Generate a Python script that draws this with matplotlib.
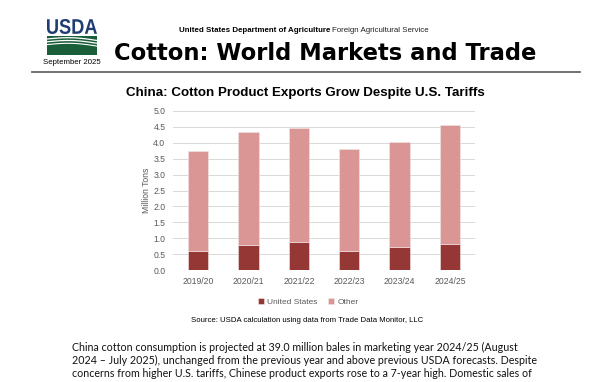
import numpy as np
import matplotlib
matplotlib.use('Agg')
from matplotlib import pyplot as plt
from matplotlib.patches import Rectangle, PathPatch
from matplotlib.textpath import TextPath
from matplotlib.font_manager import FontProperties
from matplotlib.transforms import Affine2D

# data (million tons)
years = ['2019/20', '2020/21', '2021/22', '2022/23', '2023/24', '2024/25']
us = [0.61, 0.80, 0.89, 0.61, 0.73, 0.82]
total = [3.73, 4.34, 4.45, 3.80, 4.01, 4.55]
other = [t - u for t, u in zip(total, us)]
yticks = [0.0, 0.5, 1.0, 1.5, 2.0, 2.5, 3.0, 3.5, 4.0, 4.5, 5.0]

para = ['China cotton consumption is projected at 39.0 million bales in marketing year 2024/25 (August',
        '2024 \u2013 July 2025), unchanged from the previous year and above previous USDA forecasts. Despite',
        'concerns from higher U.S. tariffs, Chinese product exports rose to a 7-year high. Domestic sales of']

W, H = 612, 382
def px(x, y):
    return x / W, 1 - y / H

fig = plt.figure(figsize=(W / 100, H / 100), dpi=100)
fig.patch.set_facecolor('white')

# header
fig.text(*px(179, 31), 'United States Department of Agriculture', fontsize=5.7,
         fontweight='bold', family='Liberation Sans', va='center')
fig.text(*px(332, 31), 'Foreign Agricultural Service', fontsize=5.7,
         family='Liberation Sans', va='center', color='#222222')
fig.text(*px(114, 60), 'Cotton: World Markets and Trade', fontsize=16.3,
         fontweight='bold', family='DejaVu Sans', va='baseline')
fig.add_artist(plt.Line2D([32 / W, 580 / W], [1 - 72 / H] * 2, color='#666666', lw=1.3))

# USDA logo: squeeze the letters into the box the logo uses (pixels 47-97, 19-34)
tp = TextPath((0, 0), 'USDA', size=10,
              prop=FontProperties(family='Liberation Sans', weight='bold'))
bb = tp.get_extents()
sx = (50 / W) / bb.width
sy = (15 / H) / bb.height
tr = Affine2D().translate(-bb.x0, -bb.y0).scale(sx, sy).translate(47 / W, 1 - 34 / H)
fig.add_artist(PathPatch(tr.transform_path(tp), color='#1f3d73', lw=0,
                         transform=fig.transFigure))
fig.add_artist(Rectangle(px(47, 55), 50 / W, 19 / H, color='#1b5e3a', lw=0))
t = np.linspace(47, 97, 50)
for off, lw in [(0, 0.9), (2.8, 0.9), (5.6, 0.8)]:
    yy = 39 + off - 2.0 * np.sin((t - 47) / 50 * np.pi) + 1.5 * (t - 47) / 50
    fig.add_artist(plt.Line2D(t / W, 1 - yy / H, color='white', lw=lw))
fig.text(*px(71.5, 62), 'September 2025', fontsize=5.6, family='Liberation Sans',
         ha='center', va='center')

# chart
ax = fig.add_axes([173 / W, 1 - 270 / H, 302 / W, 159 / H])
x = np.arange(len(years))
ax.bar(x, us, width=0.4, color='#953735', edgecolor='#f2e6e6', lw=0.4,
       label='United States', zorder=3)
ax.bar(x, other, bottom=us, width=0.4, color='#d99694', edgecolor='#f2e6e6',
       lw=0.4, label='Other', zorder=3)
ax.set_xlim(-0.5, 5.5)
ax.set_ylim(0, 5)
ax.set_yticks(yticks)
ax.set_yticklabels([f'{v:.1f}' for v in yticks])
ax.set_xticks(x)
ax.set_xticklabels(years)
ax.grid(axis='y', color='#d9d9d9', lw=0.7, zorder=0)
for s in ax.spines.values():
    s.set_visible(False)
ax.tick_params(length=0, labelsize=6.2, colors='#595959', pad=5)
ax.tick_params(axis='y', pad=5.5)
for lab in ax.get_xticklabels() + ax.get_yticklabels():
    lab.set_family('Liberation Sans')
ax.set_ylabel('Million Tons', fontsize=6.2, color='#595959', family='Liberation Sans',
              labelpad=1.5)

fig.text(*px(305, 93), 'China: Cotton Product Exports Grow Despite U.S. Tariffs',
         fontsize=9.6, fontweight='bold', family='Liberation Sans', ha='center', va='center')

leg = fig.legend(loc='center', bbox_to_anchor=px(308, 302), ncol=2, frameon=False,
                 prop={'family': 'Liberation Sans', 'size': 6.0}, handlelength=0.8,
                 handleheight=0.8, handletextpad=0.35, columnspacing=1.2)
for txt in leg.get_texts():
    txt.set_color('#595959')

fig.text(*px(307, 321), 'Source: USDA calculation using data from Trade Data Monitor, LLC',
         fontsize=5.6, family='Liberation Sans', ha='center', va='center')

for i, line in enumerate(para):
    fig.text(*px(72, 347 + 13.2 * i), line, fontsize=7.65, family='Lato',
             va='center', color='#111111')

fig.savefig('out.png', dpi=100)
